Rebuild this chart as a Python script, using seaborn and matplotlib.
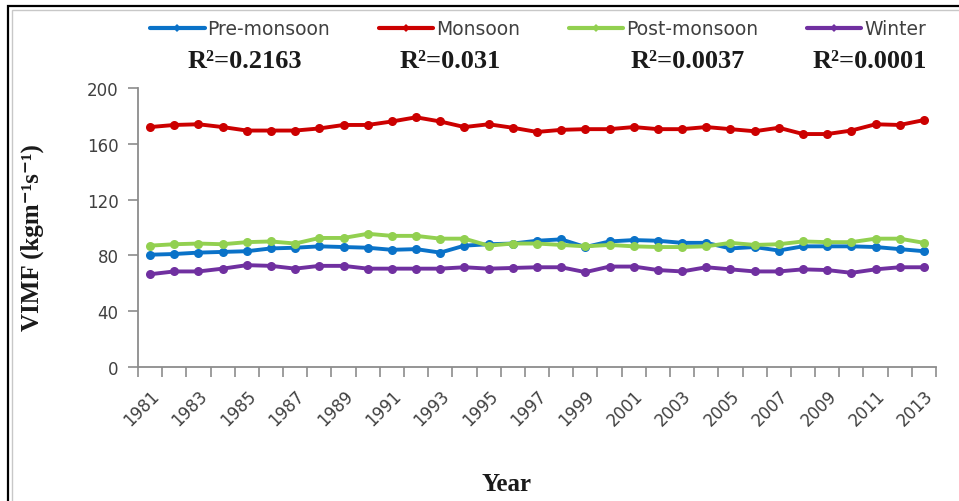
import matplotlib
matplotlib.use("Agg")
import matplotlib.pyplot as plt
import seaborn as sns
import pandas as pd
from matplotlib.lines import Line2D
from matplotlib.patches import Rectangle

# ---- data -------------------------------------------------------------
years = list(range(1981, 2014))

pre_monsoon = [80.5, 81, 82, 82.5, 83, 85, 85.5, 86.5, 86, 85.5, 84, 84.5, 82,
               87, 88, 88.5, 90.5, 91.5, 86, 90, 91, 90.5, 89, 89, 85, 86,
               83.5, 86.5, 86.5, 86.5, 86, 84.5, 83]
monsoon = [172, 173.5, 174, 172, 169.5, 169.5, 169.5, 171, 173.5, 173.5, 176,
           179, 176, 172, 174, 171.5, 168.5, 170, 170.5, 170.5, 172, 170.5,
           170.5, 172, 170.5, 169, 171.5, 167, 167, 169.5, 174, 173.5, 177]
post_monsoon = [87, 88, 88.5, 88, 89.5, 90, 88.5, 92.5, 92.5, 95.5, 94, 94, 92,
                92, 87, 88.5, 88.5, 87.5, 86.5, 87.5, 86.5, 86, 86, 86.5, 89,
                87.5, 88, 90, 89.5, 89.5, 92, 92, 89]
winter = [66.5, 68.5, 68.5, 70.5, 73, 72.5, 70.5, 72.5, 72.5, 70.5, 70.5, 70.5,
          70.5, 71.5, 70.5, 71, 71.5, 71.5, 68, 72, 72, 69.5, 68.5, 71.5, 70,
          68.5, 68.5, 70, 69.5, 67.5, 70, 71.5, 71.5]

seasons = ["Pre-monsoon", "Monsoon", "Post-monsoon", "Winter"]
r_squared = ["R\u00b2=0.2163", "R\u00b2=0.031", "R\u00b2=0.0037", "R\u00b2=0.0001"]
y_ticks = [0, 40, 80, 120, 160, 200]
colors = ["#0A72C8", "#CC0000", "#92D050", "#7030A0"]

series = [pre_monsoon, monsoon, post_monsoon, winter]
df = pd.concat(
    [pd.DataFrame({"Year": years, "VIMF": vals, "Season": name})
     for name, vals in zip(seasons, series)],
    ignore_index=True,
)

# ---- figure -----------------------------------------------------------
sns.set_theme(style="white")
plt.rcParams["font.family"] = ["DejaVu Sans"]

W, H = 959, 502
fig = plt.figure(figsize=(W / 100, H / 100), dpi=100)
fig.patch.set_facecolor("white")

ax_left, ax_right, ax_top, ax_bottom = 138, 936, 89, 368
ax = fig.add_axes([ax_left / W, 1 - ax_bottom / H,
                   (ax_right - ax_left) / W, (ax_bottom - ax_top) / H])

sns.lineplot(data=df, x="Year", y="VIMF", hue="Season", hue_order=seasons,
             palette=colors, marker="o", markersize=6.5, markeredgewidth=0,
             linewidth=2.8, legend=False, ax=ax)

# axes styling
axis_gray = "#8C8C8C"
text_gray = "#404040"
ax.set_xlim(years[0] - 0.5, years[-1] + 0.5)
ax.set_ylim(0, 200)
ax.set_yticks(y_ticks)
ax.set_yticklabels([str(v) for v in y_ticks])
ax.set_xticks(years[::2])
ax.set_xticklabels([str(y) for y in years[::2]], rotation=45,
                   ha="right", va="top", rotation_mode="anchor")
ax.set_xticks([y - 0.5 for y in years] + [years[-1] + 0.5], minor=True)
ax.tick_params(axis="x", which="major", length=0, pad=14,
               labelsize=12, labelcolor=text_gray)
ax.tick_params(axis="x", which="minor", length=7, width=1.2,
               color=axis_gray, direction="out", bottom=True)
ax.tick_params(axis="y", length=7, width=1.2, color=axis_gray,
               direction="out", left=True, pad=7,
               labelsize=12, labelcolor=text_gray)
for side in ("top", "right"):
    ax.spines[side].set_visible(False)
for side in ("left", "bottom"):
    ax.spines[side].set_color(axis_gray)
    ax.spines[side].set_linewidth(1.3)
ax.set_xlabel("")
ax.set_ylabel("")
ax.grid(False)

# axis titles
serif = ["Liberation Serif", "DejaVu Serif"]
fig.text(506 / W, 1 - 485 / H, "Year", ha="center", va="center",
         family=serif, weight="bold", fontsize=18, color="#1A1A1A")
fig.text(32 / W, 1 - 238 / H, "VIMF (kgm\u207b\u00b9s\u207b\u00b9)",
         rotation=90, ha="center", va="center",
         family=serif, weight="bold", fontsize=18, color="#1A1A1A")

# legend
handles = [Line2D([], [], color=c, linewidth=3, marker="D", markersize=4.5,
                  markeredgewidth=0) for c in colors]
fig.legend(handles, seasons, loc="center", bbox_to_anchor=(538 / W, 1 - 30 / H),
           ncol=4, frameon=False, fontsize=13.5, handlelength=2.9,
           handletextpad=0.15, columnspacing=2.6, labelcolor=text_gray)

# R-squared annotations
r_x = [245, 450, 688, 870]
for x, label in zip(r_x, r_squared):
    fig.text(x / W, 1 - 62 / H, label, ha="center", va="center",
             family=serif, weight="bold", fontsize=19, color="#1A1A1A")

# outer frame
fig.add_artist(Rectangle((8 / W, -0.05), 1.1, 1 - 7 / H + 0.05,
                         transform=fig.transFigure, fill=False,
                         edgecolor="black", linewidth=1.6))
fig.add_artist(Rectangle((11.5 / W, -0.05), 1.1, 1 - 10.5 / H + 0.05,
                         transform=fig.transFigure, fill=False,
                         edgecolor="#C8C8C8", linewidth=1.0))

fig.savefig("out.png", dpi=100)
